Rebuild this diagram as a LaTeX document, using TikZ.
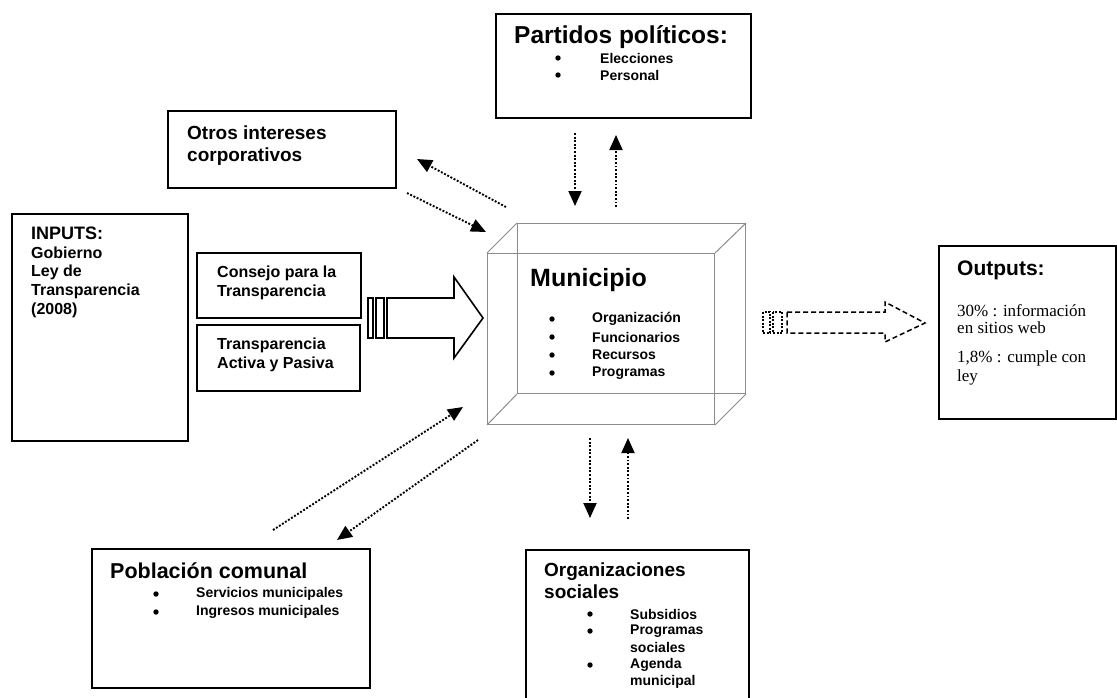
\documentclass[tikz,border=0pt]{standalone}
\usepackage{fontspec}
\setmainfont{Liberation Sans}
\newfontfamily\outserif{Liberation Serif}
\usetikzlibrary{arrows.meta}

\tikzset{
  box/.style={draw, line width=2.4pt, inner sep=0pt, anchor=north west},
  cubeface/.style={draw=black!45, line width=1pt, inner sep=0pt, anchor=north west},
  cubeedge/.style={draw=black!45, line width=1pt},
  txt/.style={anchor=west, inner sep=0pt, font=\bfseries},
  dot/.style={circle, fill, inner sep=0pt, minimum size=5.4pt},
  dotarrow/.style={line width=1.9pt, dash pattern=on 1.9pt off 1.7pt,
    -{Triangle[length=15pt,width=13pt]}},
  bigarrow/.style={line width=1.6pt, line join=miter},
  dasharrow/.style={line width=1.5pt, dash pattern=on 5pt off 3pt, line join=miter}
}
\newcommand{\bt}{\fontsize{14}{16}\selectfont}

\begin{document}
\begin{tikzpicture}[x=1pt,y=-1pt]
\useasboundingbox[fill=white] (0,0) rectangle (1117,697);

% boxes
\node[box, minimum width=255pt, minimum height=104pt] (partidos) at (495,13) {};
\node[box, minimum width=228pt, minimum height=77pt] (otros) at (167,110) {};
\node[box, minimum width=176pt, minimum height=227pt] (inputs) at (11,213) {};
\node[box, minimum width=164pt, minimum height=65pt] (consejo) at (196,252) {};
\node[box, minimum width=163pt, minimum height=66pt] (activa) at (196,324) {};
\node[box, minimum width=177pt, minimum height=173pt] (outputs) at (938,245) {};
\node[box, minimum width=278pt, minimum height=139pt] (poblacion) at (91,548) {};
\node[box, minimum width=223pt, minimum height=160pt] (orgs) at (525,549) {};

% cubo municipio
\node[cubeface, minimum width=228pt, minimum height=170pt] (munib) at (517,223) {};
\node[cubeface, minimum width=227pt, minimum height=171pt] (muni) at (487,253) {};
\draw[cubeedge] (muni.north west) -- (munib.north west);
\draw[cubeedge] (muni.north east) -- (munib.north east);
\draw[cubeedge] (muni.south west) -- (munib.south west);
\draw[cubeedge] (muni.south east) -- (munib.south east);

% textos
\node[txt, font=\bfseries\fontsize{24.5}{26}\selectfont] (partidosT) at (514,37) {Partidos políticos:};
\node[dot] at (558,58) {};
\node[txt, font=\bfseries\bt] at (600,58) {Elecciones};
\node[dot] at (558,75) {};
\node[txt, font=\bfseries\bt] at (600,75) {Personal};

\node[txt, font=\bfseries\fontsize{19}{21}\selectfont] at (187,133) {Otros intereses};
\node[txt, font=\bfseries\fontsize{19}{21}\selectfont] at (187,157) {corporativos};

\node[txt, font=\bfseries\fontsize{18}{20}\selectfont] at (31,233) {INPUTS:};
\node[txt, font=\bfseries\fontsize{16}{18}\selectfont] at (31,253) {Gobierno};
\node[txt, font=\bfseries\fontsize{16}{18}\selectfont] at (31,272) {Ley de};
\node[txt, font=\bfseries\fontsize{16}{18}\selectfont] at (31,291) {Transparencia};
\node[txt, font=\bfseries\fontsize{16}{18}\selectfont] at (31,310) {(2008)};

\node[txt, font=\bfseries\fontsize{16}{18}\selectfont] at (217,273) {Consejo para la};
\node[txt, font=\bfseries\fontsize{16}{18}\selectfont] at (217,292) {Transparencia};
\node[txt, font=\bfseries\fontsize{16}{18}\selectfont] at (217,345) {Transparencia};
\node[txt, font=\bfseries\fontsize{16}{18}\selectfont] at (217,364) {Activa y Pasiva};

\node[txt, font=\bfseries\fontsize{25}{27}\selectfont] at (530,280) {Municipio};
\foreach \y/\t in {319/Organización, 337/Funcionarios, 355/Recursos, 373/Programas}{
  \node[dot] at (552,\y) {};
  \node[txt, font=\bfseries\bt] at (592,\y) {\t};
}

\node[txt, font=\bfseries\fontsize{21}{23}\selectfont] at (957,270) {Outputs:};
\node[txt, font=\outserif\fontsize{17}{19}\selectfont] at (957,311) {30\% : información};
\node[txt, font=\outserif\fontsize{17}{19}\selectfont] at (957,328) {en sitios web};
\node[txt, font=\outserif\fontsize{17}{19}\selectfont] at (957,358) {1,8\% : cumple con};
\node[txt, font=\outserif\fontsize{17}{19}\selectfont] at (957,377) {ley};

\node[txt, font=\bfseries\fontsize{21.5}{23}\selectfont] at (110,571) {Población comunal};
\node[dot] at (156,594) {};
\node[txt, font=\bfseries\bt] at (196,594) {Servicios municipales};
\node[dot] at (156,612) {};
\node[txt, font=\bfseries\bt] at (196,612) {Ingresos municipales};

\node[txt, font=\bfseries\fontsize{19}{21}\selectfont] at (544,572) {Organizaciones};
\node[txt, font=\bfseries\fontsize{19}{21}\selectfont] at (544,592) {sociales};
\node[dot] at (590,614) {};
\node[txt, font=\bfseries\bt] at (630,614) {Subsidios};
\node[dot] at (590,631) {};
\node[txt, font=\bfseries\bt] at (630,631) {Programas};
\node[txt, font=\bfseries\bt] at (630,647) {sociales};
\node[dot] at (590,665) {};
\node[txt, font=\bfseries\bt] at (630,665) {Agenda};
\node[txt, font=\bfseries\bt] at (630,682) {municipal};

% flecha de entrada
\draw[bigarrow] (368,298) rectangle (373,338);
\draw[bigarrow] (376,298) rectangle (384,338);
\draw[bigarrow] (387,298) -- (454,298) -- (454,277) -- (483,318) -- (454,358) -- (454,338) -- (387,338) -- cycle;

% flecha de salida
\draw[dasharrow, dash pattern=on 2pt off 1.5pt] (763,312) rectangle (770,333);
\draw[dasharrow, dash pattern=on 2pt off 1.5pt] (773,312) rectangle (782,333);
\draw[dasharrow] (787,312) -- (885,312) -- (885,302) -- (925,323) -- (885,342) -- (885,333) -- (787,333) -- cycle;

% flechas punteadas
\coordinate (pd1) at (575,133); \coordinate (pd2) at (575,206);
\coordinate (pu1) at (616,207); \coordinate (pu2) at (616,135);
\draw[dotarrow] (pd1) -- (pd2);
\draw[dotarrow] (pu1) -- (pu2);

\coordinate (od1) at (590,438); \coordinate (od2) at (590,518);
\coordinate (ou1) at (628,519); \coordinate (ou2) at (628,438);
\draw[dotarrow] (od1) -- (od2);
\draw[dotarrow] (ou1) -- (ou2);

\coordinate (ci1) at (506,207); \coordinate (ci2) at (417,159);
\coordinate (cd1) at (407,193); \coordinate (cd2) at (486,232);
\draw[dotarrow] (ci1) -- (ci2);
\draw[dotarrow] (cd1) -- (cd2);

\coordinate (bu1) at (273,530); \coordinate (bu2) at (463,407);
\coordinate (bd1) at (478,440); \coordinate (bd2) at (337,540);
\draw[dotarrow] (bu1) -- (bu2);
\draw[dotarrow] (bd1) -- (bd2);
\end{tikzpicture}
\end{document}
